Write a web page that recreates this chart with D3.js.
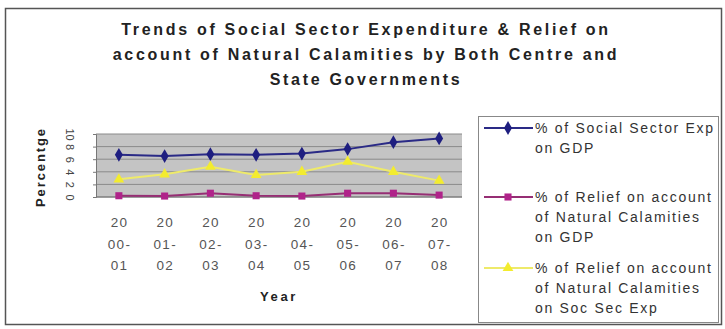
<!DOCTYPE html>
<html>
<head>
<meta charset="utf-8">
<script src="https://cdn.jsdelivr.net/npm/d3@7"></script>
<style>
  body { margin: 0; background: #fff; }
  svg { display: block; font-family: Arial, "Liberation Sans", sans-serif; }
</style>
</head>
<body>
<div class="container"></div>
<script>
/* Data */
const years = ['2000-01', '2001-02', '2002-03', '2003-04', '2004-05', '2005-06', '2006-07', '2007-08'];
const socialExpGdp = [6.7, 6.5, 6.8, 6.7, 6.9, 7.6, 8.7, 9.3];
const reliefGdp = [0.2, 0.15, 0.6, 0.2, 0.15, 0.6, 0.6, 0.3];
const reliefSocExp = [2.8, 3.6, 4.8, 3.5, 4.0, 5.6, 4.0, 2.6];
const yTicks = [0, 2, 4, 6, 8, 10];
const titleLines = [
    'Trends of Social Sector Expenditure & Relief on',
    'account of Natural Calamities by Both Centre and',
    'State Governments'
];

/* Series styles */
const series = [
    { values: socialExpGdp, color: '#1e1e80', line: '#2a2a86', marker: d3.symbolDiamond, size: 55,
      label: ['% of Social Sector Exp', 'on GDP'] },
    { values: reliefGdp, color: '#b0238a', line: '#962e74', marker: d3.symbolSquare, size: 50,
      label: ['% of Relief on account', 'of Natural Calamities', 'on GDP'] },
    { values: reliefSocExp, color: '#f3ec2e', line: '#eeea6a', marker: d3.symbolTriangle, size: 50,
      label: ['% of Relief on account', 'of Natural Calamities', 'on Soc Sec Exp'] }
];

const width = 725;
const height = 329;
const plot = { left: 96, right: 462, top: 134, bottom: 197 };

const svg = d3.select('.container')
    .append('svg')
    .attr('width', width)
    .attr('height', height);

// outer frame
svg.append('rect')
    .attr('x', 5.5).attr('y', 8.5)
    .attr('width', 716).attr('height', 316)
    .attr('fill', '#fff')
    .attr('stroke', '#555')
    .attr('stroke-width', 1.5);

// title
svg.append('g')
    .selectAll('text')
    .data(titleLines)
    .enter()
    .append('text')
    .attr('x', 366)
    .attr('y', (d, i) => 35 + i * 25)
    .attr('text-anchor', 'middle')
    .attr('font-size', 16)
    .attr('font-weight', 'bold')
    .attr('letter-spacing', 2.7)
    .attr('fill', '#222')
    .text(d => d);

// scales
const x = d3.scaleBand().domain(years).range([plot.left, plot.right]);
const y = d3.scaleLinear().domain([0, 10]).range([plot.bottom, plot.top]);

// plot area
svg.append('rect')
    .attr('x', plot.left).attr('y', plot.top)
    .attr('width', plot.right - plot.left)
    .attr('height', plot.bottom - plot.top)
    .attr('fill', '#c4c4c4');

// gridlines
svg.append('g')
    .selectAll('line')
    .data(yTicks)
    .enter()
    .append('line')
    .attr('x1', plot.left).attr('x2', plot.right)
    .attr('y1', d => y(d)).attr('y2', d => y(d))
    .attr('stroke', '#8a8a8a')
    .attr('stroke-width', 1);

// y axis, labels turned sideways
const yAxis = svg.append('g')
    .attr('transform', `translate(${plot.left},0)`)
    .call(d3.axisLeft(y).tickValues(yTicks).tickSize(3).tickPadding(3));
yAxis.select('.domain').attr('stroke', '#777');
yAxis.selectAll('.tick line').attr('stroke', '#777');
yAxis.selectAll('.tick text')
    .attr('x', null).attr('dy', null)
    .attr('transform', 'translate(-26,0) rotate(90)')
    .attr('text-anchor', 'middle')
    .attr('dominant-baseline', 'central')
    .attr('font-size', 11)
    .attr('fill', '#444')
    .attr('font-family', 'Arial, "Liberation Sans", sans-serif');

// x axis line
svg.append('line')
    .attr('x1', plot.left).attr('x2', plot.right)
    .attr('y1', plot.bottom).attr('y2', plot.bottom)
    .attr('stroke', '#777');

// x labels in three lines
const xl = svg.append('g')
    .selectAll('text')
    .data(years)
    .enter()
    .append('text')
    .attr('text-anchor', 'middle')
    .attr('font-size', 13.5)
    .attr('letter-spacing', 1.4)
    .attr('fill', '#555');
xl.each(function (d) {
    const parts = [d.slice(0, 2), d.slice(2, 5), d.slice(5)];
    d3.select(this).selectAll('tspan')
        .data(parts)
        .enter()
        .append('tspan')
        .attr('x', x(d) + x.bandwidth() / 2 + 0.7)
        .attr('y', (p, i) => 227 + i * 21.5)
        .text(p => p);
});

// axis titles
svg.append('text')
    .attr('x', 279).attr('y', 301)
    .attr('text-anchor', 'middle')
    .attr('font-size', 13)
    .attr('font-weight', 'bold')
    .attr('letter-spacing', 2.6)
    .attr('fill', '#222')
    .text('Year');

svg.append('text')
    .attr('transform', 'translate(45,167) rotate(-90)')
    .attr('text-anchor', 'middle')
    .attr('font-size', 13)
    .attr('font-weight', 'bold')
    .attr('letter-spacing', 1.9)
    .attr('fill', '#222')
    .text('Percentge');

// lines and markers
const line = d3.line()
    .x((d, i) => x(years[i]) + x.bandwidth() / 2)
    .y(d => y(d));

series.slice().reverse().forEach(s => {
    svg.append('path')
        .datum(s.values)
        .attr('d', line)
        .attr('fill', 'none')
        .attr('stroke', s.line)
        .attr('stroke-width', 2);
});
series.forEach(s => {
    svg.append('g')
        .selectAll('path')
        .data(s.values)
        .enter()
        .append('path')
        .attr('transform', (d, i) => `translate(${x(years[i]) + x.bandwidth() / 2},${y(d)})`)
        .attr('d', d3.symbol().type(s.marker).size(s.size))
        .attr('fill', s.color);
});

// legend
svg.append('rect')
    .attr('x', 478.5).attr('y', 116.5)
    .attr('width', 240).attr('height', 206)
    .attr('fill', '#fff')
    .attr('stroke', '#888');

const legendTop = [128, 197, 268];
series.forEach((s, k) => {
    const g = svg.append('g').attr('transform', `translate(0,${legendTop[k]})`);
    g.append('line')
        .attr('x1', 484).attr('x2', 533)
        .attr('y1', 0).attr('y2', 0)
        .attr('stroke', s.line)
        .attr('stroke-width', 2);
    g.append('path')
        .attr('transform', 'translate(508,0)')
        .attr('d', d3.symbol().type(s.marker).size(s.size))
        .attr('fill', s.color);
    g.selectAll('text')
        .data(s.label)
        .enter()
        .append('text')
        .attr('x', 535)
        .attr('y', (d, i) => 5 + i * 20)
        .attr('font-size', 14)
        .attr('letter-spacing', 1.7)
        .attr('fill', '#333')
        .text(d => d);
});
</script>
</body>
</html>
